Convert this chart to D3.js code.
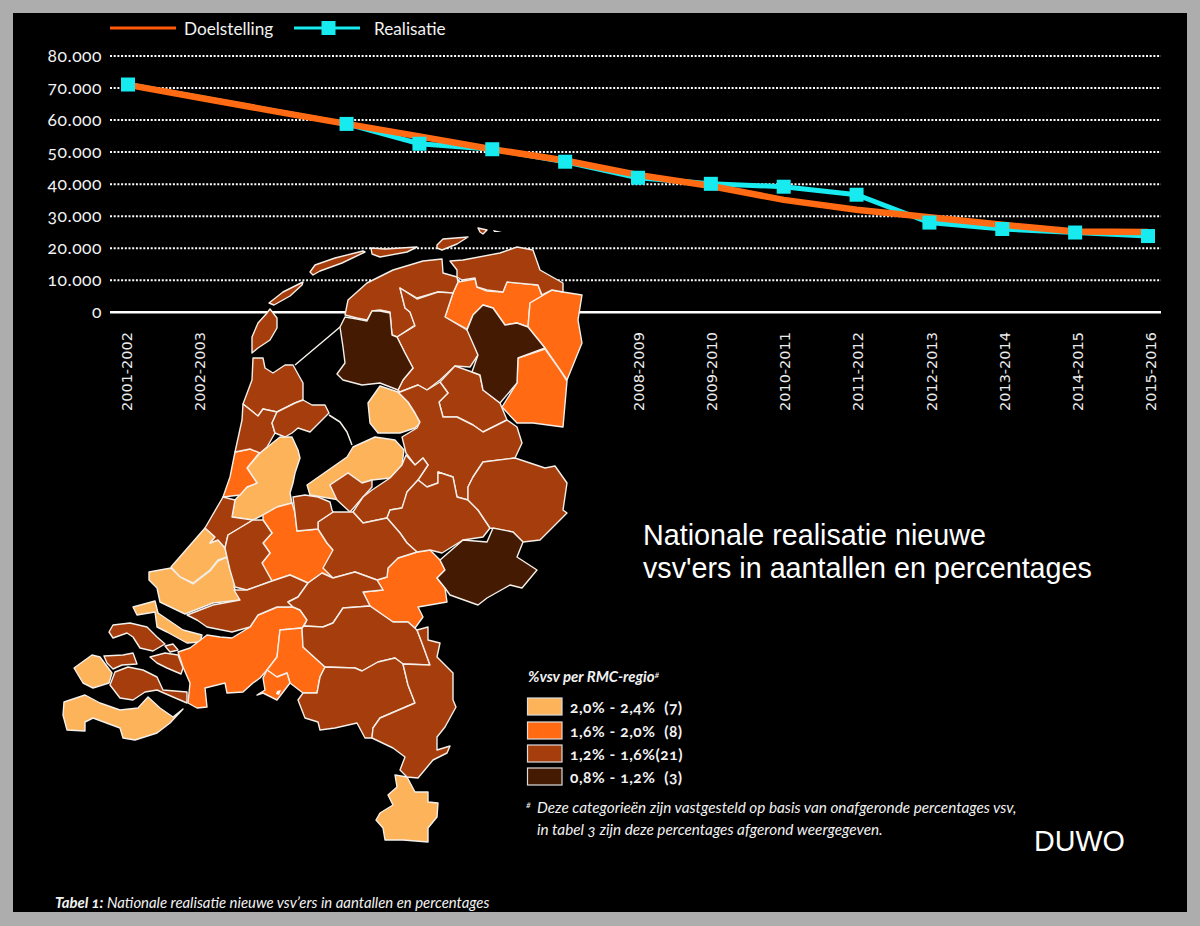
<!DOCTYPE html>
<html><head><meta charset="utf-8">
<script src="https://cdn.jsdelivr.net/npm/d3@7/dist/d3.min.js"></script>
<style>
html,body{margin:0;padding:0;background:#adadad}
svg{display:block}
text{font-family:Lato,"Open Sans",sans-serif;fill:#f2f2f2;font-variant-numeric:oldstyle-nums;font-feature-settings:"onum" 1}
.plain{font-family:"Liberation Sans",Arial,sans-serif;font-variant-numeric:normal;font-feature-settings:normal;fill:#fff}
.xl{font-family:"DejaVu Sans",sans-serif;font-variant-numeric:normal;font-feature-settings:normal;fill:#ececec}
</style></head><body>
<svg id="c" width="1200" height="926"></svg>
<script>
// ---------- chart data ----------
const years = ["2001-2002","2002-2003","2003-2004","2004-2005","2005-2006","2006-2007","2007-2008","2008-2009","2009-2010","2010-2011","2011-2012","2012-2013","2013-2014","2014-2015","2015-2016"];
const hiddenYearLabels = ["2003-2004","2004-2005","2005-2006","2006-2007","2007-2008"];
const doelstelling = [71000,66900,62800,58800,54900,50900,47400,42900,39400,35100,32000,29700,27300,25200,25100];
const realisatie = [71100,null,null,58800,52600,50900,47000,42000,40100,39200,36700,28000,26000,24900,23800];
const yTicks = [0,10000,20000,30000,40000,50000,60000,70000,80000];
const yTickLabels = ["0","10.000","20.000","30.000","40.000","50.000","60.000","70.000","80.000"];

// ---------- legend data ----------
const classNames = ["light","orange","brown","dark"];
const classColors = ["#fdb35a","#ff6a12","#a63d0c","#441a03"];
const classLabels = ["2,0% - 2,4%  (7)","1,6% - 2,0%  (8)","1,2% - 1,6%(21)","0,8% - 1,2%  (3)"];

// ---------- map outlines (map units) ----------
const mapLight = [
 [[380,386],[398,392],[408,402],[415,413],[420,423],[415,428],[400,433],[378,433],[370,423],[368,403]],
 [[307,485],[347,457],[353,447],[375,437],[395,440],[404,450],[402,465],[390,478],[372,480],[362,483],[348,473],[330,485],[340,500],[310,495]],
 [[280,437],[292,437],[298,450],[300,458],[295,473],[293,483],[290,493],[292,503],[277,507],[263,515],[253,520],[232,517],[235,500],[247,487],[257,483],[247,468],[260,453]],
 [[205,528],[215,537],[210,543],[218,540],[225,548],[227,557],[218,560],[210,570],[193,583],[180,577],[171,567]],
 [[149,572],[171,568],[180,577],[193,584],[210,571],[218,561],[227,557],[230,570],[235,572],[234,587],[240,600],[213,603],[185,614],[160,602],[157,588],[149,580]],
 [[133,607],[155,601],[158,613],[183,630],[202,635],[200,642],[187,643],[167,632],[157,627],[155,612],[137,615]],
 [[74,668],[92,655],[100,657],[112,673],[109,683],[93,688],[83,683]],
 [[64,702],[85,695],[100,703],[120,710],[138,708],[148,697],[160,708],[173,717],[183,709],[170,723],[157,733],[135,740],[123,738],[120,728],[93,718],[85,722],[85,731],[67,730],[63,715]],
 [[395,775],[407,777],[415,792],[428,792],[428,802],[438,803],[437,817],[428,828],[428,842],[403,840],[385,840],[383,828],[376,820],[380,813],[393,805],[388,795],[397,787]]
];
const mapOrange = [
 [[458,282],[475,279],[477,287],[487,291],[503,292],[507,282],[538,285],[542,296],[530,303],[528,327],[517,323],[505,325],[493,308],[483,305],[473,315],[467,329],[445,317],[453,293]],
 [[542,296],[552,290],[563,292],[582,295],[578,320],[582,343],[567,380],[558,367],[545,348],[528,327],[530,303]],
 [[518,358],[545,349],[560,370],[567,381],[563,427],[533,423],[517,423],[502,407],[517,383]],
 [[387,577],[388,568],[398,558],[417,552],[430,550],[440,560],[445,570],[437,578],[445,588],[447,602],[418,607],[423,617],[415,628],[408,622],[393,622],[370,606],[363,592],[383,590],[377,580]],
 [[277,507],[292,503],[295,513],[297,531],[318,529],[327,543],[333,550],[358,558],[355,570],[333,578],[322,573],[308,583],[290,575],[272,581],[262,563],[270,553],[263,543],[272,533],[263,520],[263,515]],
 [[235,452],[250,449],[260,452],[247,468],[257,483],[247,487],[240,495],[223,497],[230,477]],
 [[178,652],[190,648],[207,635],[220,637],[232,638],[250,627],[258,615],[277,607],[293,607],[300,610],[307,620],[302,628],[280,630],[277,657],[267,670],[260,678],[253,683],[243,692],[227,693],[225,683],[205,688],[207,707],[197,708],[188,703],[190,683],[183,667]],
 [[280,630],[302,628],[303,647],[325,667],[320,677],[317,693],[303,693],[290,683],[287,673],[277,677],[267,670],[277,657]],
 [[267,670],[277,677],[287,673],[290,683],[277,700],[263,693],[257,695],[265,690],[263,678]]
];
const mapBrown = [
 [[270,309],[277,318],[277,328],[270,340],[258,348],[252,353],[252,337],[258,323],[267,313]],
 [[269,303],[283,292],[303,282],[302,285],[290,296],[274,305]],
 [[310,272],[315,265],[335,258],[363,251],[365,252],[342,263],[320,271],[313,275]],
 [[371,248],[385,249],[417,247],[407,252],[380,257],[372,254]],
 [[437,245],[443,239],[468,237],[457,244],[442,250],[437,248]],
 [[478,228],[487,230],[483,234],[480,232]],
 [[345,315],[348,300],[367,283],[393,270],[423,261],[442,259],[443,273],[457,277],[458,282],[453,293],[438,292],[417,298],[400,288],[403,300],[405,308],[410,312],[415,325],[397,337],[392,335],[390,312],[380,310],[372,311],[367,320],[357,318]],
 [[397,337],[415,326],[410,312],[405,308],[403,300],[400,288],[417,299],[438,292],[453,293],[445,317],[467,330],[470,333],[478,355],[470,367],[455,366],[440,380],[427,390],[418,385],[400,392],[398,390],[403,380],[413,368],[405,353]],
 [[450,261],[463,260],[500,253],[517,247],[533,250],[540,270],[563,283],[563,292],[552,290],[542,295],[538,285],[507,282],[503,292],[487,290],[477,287],[475,278],[462,280],[457,277],[457,270]],
 [[440,382],[455,366],[472,372],[480,375],[483,390],[500,403],[507,420],[483,432],[473,425],[457,417],[443,417],[439,402],[448,393]],
 [[400,392],[418,385],[427,390],[440,382],[448,393],[439,402],[443,417],[457,417],[473,425],[483,432],[507,420],[517,427],[522,443],[515,458],[483,462],[473,477],[468,487],[468,500],[457,497],[453,477],[438,472],[438,483],[427,487],[418,480],[428,465],[423,458],[415,465],[406,453],[402,437],[417,428],[420,422],[415,413],[408,402],[398,392]],
 [[330,485],[348,473],[362,483],[372,480],[372,487],[363,497],[350,512],[337,500]],
 [[353,512],[363,497],[372,490],[390,478],[402,465],[406,455],[415,465],[423,458],[428,465],[418,480],[407,492],[405,500],[402,508],[390,510],[387,518],[363,523]],
 [[402,508],[407,492],[418,480],[427,487],[438,483],[438,472],[453,477],[457,497],[468,500],[478,510],[490,528],[483,537],[463,540],[442,553],[430,550],[417,552],[407,543],[400,533],[387,518],[390,510]],
 [[468,487],[473,477],[483,462],[515,458],[545,468],[555,466],[567,483],[563,510],[567,513],[560,520],[540,540],[523,542],[513,532],[490,528],[478,510],[468,500]],
 [[318,522],[333,512],[353,512],[363,523],[387,518],[400,533],[407,543],[417,552],[398,558],[388,568],[387,577],[377,580],[355,572],[333,578],[323,568],[333,550],[327,543],[318,529]],
 [[293,497],[305,495],[318,497],[330,502],[332,510],[333,512],[318,522],[318,529],[297,531],[295,513]],
 [[253,358],[263,358],[265,368],[273,373],[285,365],[293,365],[303,383],[303,400],[295,403],[277,412],[263,409],[258,416],[243,404],[252,380]],
 [[243,404],[258,416],[263,409],[277,412],[272,423],[275,433],[267,447],[260,453],[250,449],[235,452],[242,420]],
 [[277,412],[295,403],[303,400],[312,405],[325,405],[329,413],[322,420],[310,432],[298,428],[292,433],[285,437],[275,433],[272,423]],
 [[223,497],[235,500],[232,517],[253,520],[228,535],[225,548],[218,540],[210,543],[215,537],[205,528]],
 [[228,535],[253,520],[263,520],[272,533],[263,543],[270,553],[262,563],[272,581],[247,590],[235,587],[230,570],[227,557],[225,548]],
 [[187,615],[213,605],[240,600],[234,590],[247,590],[272,581],[290,575],[308,583],[298,597],[288,602],[293,607],[277,607],[258,615],[250,627],[232,632],[207,627],[197,620]],
 [[308,583],[322,573],[333,578],[355,572],[377,580],[383,590],[363,592],[370,606],[357,607],[343,608],[333,623],[323,627],[304,626],[307,620],[300,610],[293,607],[288,602],[298,597]],
 [[304,626],[323,627],[333,623],[343,608],[357,607],[370,606],[393,622],[408,622],[417,630],[422,643],[430,665],[403,664],[395,658],[378,662],[362,671],[355,668],[325,667],[303,647],[302,628]],
 [[325,667],[355,668],[362,671],[378,662],[395,658],[403,664],[408,685],[415,703],[380,718],[373,728],[372,738],[365,738],[357,723],[335,728],[320,730],[318,722],[305,718],[298,700],[303,693],[317,693],[320,677]],
 [[417,630],[428,627],[428,640],[440,643],[437,657],[453,673],[453,700],[456,707],[445,727],[437,737],[437,750],[450,746],[447,753],[433,760],[418,778],[407,777],[400,770],[405,757],[393,748],[372,738],[373,728],[380,718],[415,703],[408,685],[403,664],[430,665],[422,643]],
 [[109,632],[113,625],[130,623],[147,627],[157,637],[165,644],[153,651],[140,648],[133,637],[127,633],[113,638]],
 [[165,646],[173,644],[178,650],[170,652]],
 [[150,657],[165,653],[178,655],[183,668],[181,674],[167,668],[157,663]],
 [[104,656],[123,655],[133,653],[137,664],[122,665],[113,669],[107,663]],
 [[115,672],[128,667],[143,670],[157,677],[163,690],[187,692],[187,703],[173,697],[157,690],[145,692],[133,700],[120,698],[110,685]]
];
const mapDark = [
 [[345,317],[357,319],[367,321],[372,311],[380,311],[390,313],[392,335],[397,337],[405,353],[413,368],[403,380],[398,390],[380,383],[362,385],[343,380],[337,374],[345,363],[343,347],[340,327]],
 [[467,330],[473,315],[483,305],[493,308],[505,325],[517,323],[528,327],[545,348],[518,358],[517,383],[500,403],[483,390],[480,375],[472,372],[478,355]],
 [[440,560],[463,540],[487,542],[493,528],[513,532],[523,542],[517,557],[537,570],[522,588],[510,585],[487,598],[478,605],[450,595],[445,588],[437,578],[445,570]]
];
const mapWhite = [
 [[493,230],[502,232],[494,232]],
 [[277,691],[281,690],[279,695],[276,694]]
];
const mapDikes = [
 [[295,365],[333,333],[340,327]],
 [[329,415],[340,422],[347,432],[352,445]]
];

// ---------- drawing ----------
const svg = d3.select("#c");
svg.append("rect").attr("width",1200).attr("height",926).attr("fill","#adadad");
svg.append("rect").attr("x",13).attr("y",13).attr("width",1174).attr("height",899).attr("fill","#000");

const x = d3.scalePoint().domain(years).range([128,1148]);
const xLabel = d3.scalePoint().domain(years).range([132,1156]);
const y = d3.scaleLinear().domain([0,80000]).range([312.3,56]);

// gridlines
svg.append("g").selectAll("line").data(yTicks).join("line")
  .attr("x1",110).attr("x2",1161).attr("y1",d=>y(d)).attr("y2",d=>y(d))
  .attr("stroke","#fff")
  .attr("stroke-width",d=>d===0?2.4:2)
  .attr("stroke-dasharray",d=>d===0?null:"2 1.7");

// y tick labels
svg.append("g").selectAll("text").data(yTicks).join("text")
  .attr("x",102).attr("y",d=>y(d)+5.5).attr("text-anchor","end")
  .attr("font-size",17.5).attr("letter-spacing",0.5)
  .text((d,i)=>yTickLabels[i]);

// x tick labels
svg.append("g").selectAll("text").data(years.filter(d=>!hiddenYearLabels.includes(d))).join("text")
  .attr("class","xl").attr("text-anchor","end")
  .attr("transform",d=>`translate(${xLabel(d)},332) rotate(-90)`)
  .attr("font-size",14.5)
  .text(d=>d);

// lines
const line = d3.line().x(d=>x(d.k)).y(d=>y(d.v));
const rPts = years.map((k,i)=>({k,v:realisatie[i]})).filter(d=>d.v!=null);
const dPts = years.map((k,i)=>({k,v:doelstelling[i]}));
svg.append("path").attr("d",line(rPts)).attr("fill","none").attr("stroke","#17ebf0").attr("stroke-width",5);
svg.append("path").attr("d",line(dPts)).attr("fill","none").attr("stroke","#ff6a12").attr("stroke-width",6.5);
svg.append("g").selectAll("rect").data(rPts).join("rect")
  .attr("x",d=>x(d.k)-7).attr("y",d=>y(d.v)-7).attr("width",14).attr("height",14).attr("fill","#17ebf0");

// chart legend
const lg = svg.append("g");
lg.append("line").attr("x1",110).attr("x2",176).attr("y1",28).attr("y2",28).attr("stroke","#ff5a0a").attr("stroke-width",3);
lg.append("text").attr("x",184).attr("y",35).attr("font-size",17.2).text("Doelstelling");
lg.append("line").attr("x1",294).attr("x2",360).attr("y1",28).attr("y2",28).attr("stroke","#17ebf0").attr("stroke-width",3);
lg.append("rect").attr("x",321.5).attr("y",21).attr("width",14).attr("height",14).attr("fill","#17ebf0");
lg.append("text").attr("x",374).attr("y",35).attr("font-size",17.2).text("Realisatie");

// map
const geo = d3.geoPath(d3.geoIdentity());
const asFeatures = (rings,cls)=>rings.map(r=>({type:"Feature",properties:{cls},geometry:{type:"Polygon",coordinates:[r.concat([r[0]])]}}));
const color = d3.scaleOrdinal().domain(classNames).range(classColors);
const features = [].concat(asFeatures(mapLight,"light"),asFeatures(mapOrange,"orange"),asFeatures(mapBrown,"brown"),asFeatures(mapDark,"dark"));
const mp = svg.append("g").attr("stroke-linejoin","round");
mp.selectAll("path.r").data(features).join("path").attr("class","r")
  .attr("d",geo).attr("fill",d=>color(d.properties.cls)).attr("stroke","#f4efe9").attr("stroke-width",1.4);
mp.selectAll("path.w").data(asFeatures(mapWhite,"white")).join("path").attr("class","w")
  .attr("d",geo).attr("fill","#fff");
mp.selectAll("path.k").data(mapDikes.map(c=>({type:"LineString",coordinates:c}))).join("path").attr("class","k")
  .attr("d",geo).attr("fill","none").attr("stroke","#f4efe9").attr("stroke-width",1.5);

// map legend
const ml = svg.append("g");
ml.append("text").attr("x",528).attr("y",682).attr("font-size",15).attr("font-weight",700).attr("font-style","italic").text("%vsv per RMC-regio")
  .append("tspan").attr("dy",-4).attr("font-size",9).attr("font-weight",400).text("#");
const rowY = [698,722,745,768];
ml.selectAll("rect").data(classNames).join("rect")
  .attr("x",527.5).attr("y",(d,i)=>rowY[i]).attr("width",34.5).attr("height",17)
  .attr("fill",d=>color(d)).attr("stroke","#ddd").attr("stroke-width",1.2);
ml.selectAll("text.l").data(classLabels).join("text").attr("class","l")
  .attr("x",570).attr("y",(d,i)=>rowY[i]+14.5).attr("font-size",15.5).attr("font-weight",700).attr("letter-spacing",0.55)
  .style("white-space","pre").text(d=>d);
ml.append("text").attr("x",526).attr("y",808).attr("font-size",9).attr("font-style","italic").text("#");
ml.append("text").attr("x",537).attr("y",813).attr("font-size",15.3).attr("font-style","italic").text("Deze categorieën zijn vastgesteld op basis van onafgeronde percentages vsv,");
ml.append("text").attr("x",537).attr("y",835).attr("font-size",15.3).attr("font-style","italic").text("in tabel 3 zijn deze percentages afgerond weergegeven.");

// titles
svg.append("text").attr("class","plain").attr("x",643).attr("y",545).attr("font-size",28.7).text("Nationale realisatie nieuwe");
svg.append("text").attr("class","plain").attr("x",643).attr("y",578).attr("font-size",28.7).text("vsv'ers in aantallen en percentages");
svg.append("text").attr("class","plain").attr("x",1034).attr("y",851).attr("font-size",28.7).text("DUWO");
const cap = svg.append("text").attr("x",55).attr("y",908).attr("font-size",14.9).attr("font-style","italic");
cap.append("tspan").attr("font-weight",700).text("Tabel 1:");
cap.append("tspan").text(" Nationale realisatie nieuwe vsv’ers in aantallen en percentages");
</script>
</body></html>
